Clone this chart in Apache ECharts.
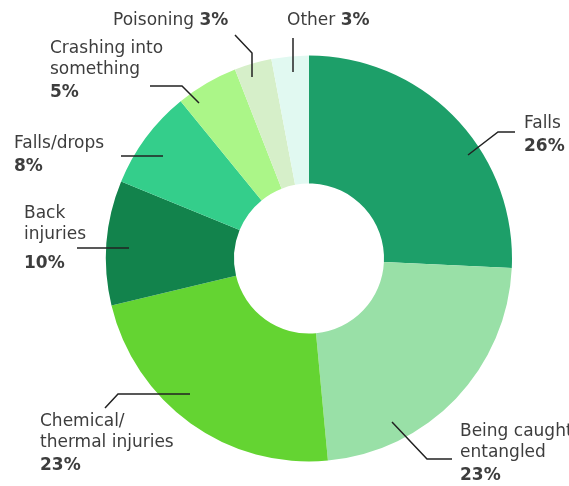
<!DOCTYPE html>
<html>
<head>
<meta charset="utf-8">
<script src="https://cdn.jsdelivr.net/npm/echarts@6/dist/echarts.min.js"></script>
<style>
html,body{margin:0;padding:0;background:#fff;}
#chart{width:569px;height:486px;}
</style>
</head>
<body>
<div id="chart"></div>
<script>
// ---- data ----
var categories = ['Falls', 'Being caught/\nentangled', 'Chemical/\nthermal injuries', 'Back\ninjuries', 'Falls/drops', 'Crashing into\nsomething', 'Poisoning', 'Other'];
var values = [26, 23, 23, 10, 8, 5, 3, 3];
var colors = ['#1d9f69', '#99e0a7', '#64d432', '#12834c', '#34ce8b', '#abf688', '#d6efc9', '#e1f9f1'];

// ---- label placement (layout only) ----
var labelPlacements = [
  {x: 524, y: 113, line: [[468,155],[498,132],[515,132]]},
  {x: 460, y: 421, line: [[392,422],[427,459],[452,459]]},
  {x: 40,  y: 411, line: [[190,394],[118,394],[105,408]]},
  {x: 24,  y: 203, line: [[129,248],[77,248]]},
  {x: 14,  y: 133, line: [[163,156],[121,156]]},
  {x: 50,  y: 38,  line: [[199,103],[182,86],[150,86]]},
  {x: 113, y: 8,   line: [[252,77],[252,53],[235,35]]},
  {x: 287, y: 8,   line: [[293,72],[293,38]]}
];
var inlineLabels = [false, false, false, false, false, false, true, true];

var chart = echarts.init(document.getElementById('chart'));

function makeData(withColor) {
  return categories.map(function (c, i) {
    return {name: c, value: values[i], itemStyle: {color: withColor ? colors[i] : 'rgba(0,0,0,0)'}};
  });
}

var base = {
  type: 'pie',
  center: [309, 258.5],
  radius: [75, 203],
  startAngle: 90,
  clockwise: true,
  avoidLabelOverlap: false,
  emphasis: {disabled: true},
  silent: true
};

chart.setOption({
  animation: false,
  series: [
    Object.assign({}, base, {
      z: 2,
      data: makeData(true),
      label: {show: false},
      labelLine: {show: false}
    }),
    Object.assign({}, base, {
      z: 5,
      data: makeData(false),
      label: {
        show: true,
        position: 'outside',
        formatter: function (p) {
          var i = p.dataIndex;
          var pc = p.value + '%';
          if (inlineLabels[i]) return '{n|' + p.name + ' }{p|' + pc + '}';
          var lines = p.name.split('\n').map(function (s) { return '{n|' + s + '}'; });
          var tag = (i === 3) ? 'pb' : 'p';
          return lines.join('\n') + '\n{' + tag + '|' + pc + '}';
        },
        rich: {
          n: {fontFamily: 'DejaVu Sans', fontSize: 17, color: '#3d3d3d', lineHeight: 21},
          p: {fontFamily: 'DejaVu Sans', fontSize: 17, fontWeight: 'bold', color: '#3d3d3d', lineHeight: 26},
          pb: {fontFamily: 'DejaVu Sans', fontSize: 17, fontWeight: 'bold', color: '#3d3d3d', lineHeight: 37}
        }
      },
      labelLine: {
        show: true,
        lineStyle: {color: '#222', width: 1.5}
      },
      labelLayout: function (params) {
        var pl = labelPlacements[params.dataIndex];
        return {
          x: pl.x,
          y: pl.y,
          align: 'left',
          verticalAlign: 'top',
          labelLinePoints: pl.line
        };
      }
    })
  ]
});
</script>
</body>
</html>
